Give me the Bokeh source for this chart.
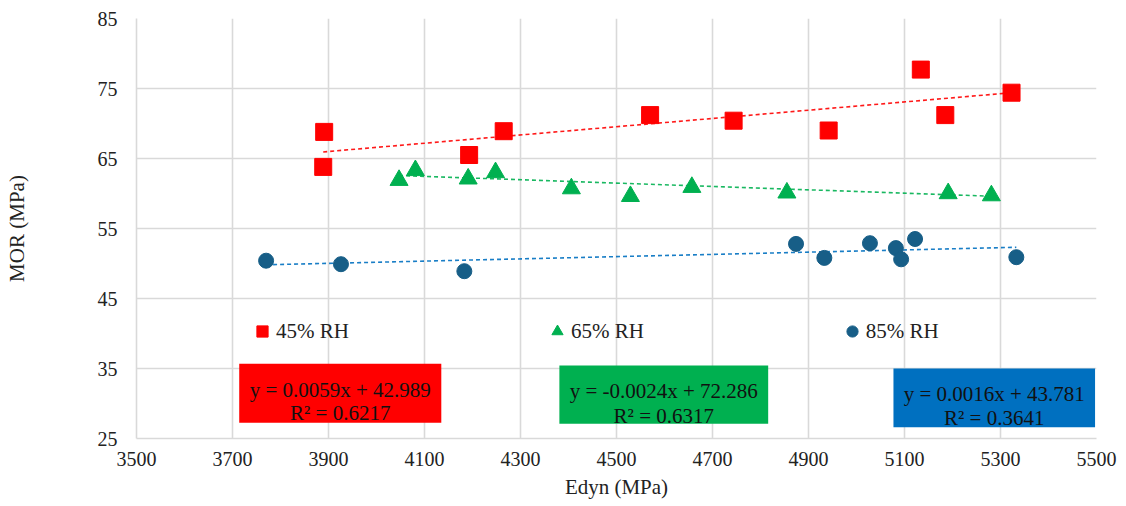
from bokeh.plotting import figure
from bokeh.models import FixedTicker, Label, BoxAnnotation, Range1d
from bokeh.embed import file_html
from bokeh.resources import INLINE

# ---- data ----
series_names = ["45% RH", "65% RH", "85% RH"]
edyn_45 = [3891, 3889, 4193, 4265, 4570, 4744, 4942, 5134, 5185, 5323]
mor_45 = [68.8, 63.8, 65.5, 68.9, 71.2, 70.4, 69.0, 77.7, 71.2, 74.4]
edyn_65 = [4047, 4081, 4191, 4248, 4406, 4529, 4657, 4855, 5191, 5281]
mor_65 = [61.9, 63.3, 62.1, 63.0, 60.7, 59.6, 60.9, 60.1, 60.0, 59.7]
edyn_85 = [3770, 3926, 4183, 4874, 4933, 5028, 5082, 5093, 5122, 5333]
mor_85 = [50.4, 49.9, 48.9, 52.8, 50.8, 52.9, 52.2, 50.6, 53.5, 50.9]
slopes = [0.0059, -0.0024, 0.0016]
intercepts = [42.989, 72.286, 43.781]
eq_labels = ["y = 0.0059x + 42.989", "y = -0.0024x + 72.286", "y = 0.0016x + 43.781"]
r2_labels = ["R\u00b2 = 0.6217", "R\u00b2 = 0.6317", "R\u00b2 = 0.3641"]
x_ticks = [3500, 3700, 3900, 4100, 4300, 4500, 4700, 4900, 5100, 5300, 5500]
y_ticks = [25, 35, 45, 55, 65, 75, 85]

FONT = "'Liberation Serif', 'Times New Roman', serif"
marker_colors = ["#FF0000", "#00B050", "#175E87"]
line_colors = ["#FF0000", "#00B050", "#0070C0"]
box_colors = ["#FF0000", "#00B050", "#0070C0"]
markers = ["square", "triangle", "circle"]
sizes = [17, 18, 15]

p = figure(width=1126, height=506, output_backend="svg", toolbar_location=None,
           title=None,
           x_range=Range1d(x_ticks[0], x_ticks[-1]), y_range=Range1d(y_ticks[0], y_ticks[-1]),
           min_border_left=136, min_border_right=30, min_border_top=18, min_border_bottom=68)
p.outline_line_color = None
p.background_fill_color = "white"
p.border_fill_color = "white"

p.xaxis.ticker = FixedTicker(ticks=x_ticks)
p.yaxis.ticker = FixedTicker(ticks=y_ticks)
p.xgrid.ticker = FixedTicker(ticks=x_ticks)
p.ygrid.ticker = FixedTicker(ticks=y_ticks)
for g in (p.xgrid, p.ygrid):
    g.grid_line_color = "#D9D9D9"
    g.grid_line_width = 1.6
for ax in (p.xaxis, p.yaxis):
    ax.axis_line_color = "#D9D9D9"
    ax.axis_line_width = 1.6
    ax.major_tick_line_color = None
    ax.minor_tick_line_color = None
    ax.major_tick_out = 0
    ax.major_tick_in = 0
    ax.major_label_text_font = FONT
    ax.major_label_text_font_size = "20px"
    ax.major_label_text_color = "#222222"
    ax.axis_label_text_font = FONT
    ax.axis_label_text_font_size = "21px"
    ax.axis_label_text_font_style = "normal"
    ax.axis_label_text_color = "#222222"
p.xaxis.axis_label = "Edyn (MPa)"
p.yaxis.axis_label = "MOR (MPa)"
p.xaxis.major_label_standoff = 13
p.xaxis.axis_label_standoff = 6
p.yaxis.major_label_standoff = 19
p.yaxis.axis_label_standoff = 66

xs_all = [edyn_45, edyn_65, edyn_85]
ys_all = [mor_45, mor_65, mor_85]

# trend lines
for xs, m, b, c in zip(xs_all, slopes, intercepts, line_colors):
    x0, x1 = min(xs), max(xs)
    p.line([x0, x1], [m * x0 + b, m * x1 + b], line_color=c, line_width=1.6,
           line_dash="4 3", line_alpha=0.9)

# scatter series
for xs, ys, name, mk, c, s in zip(xs_all, ys_all, series_names, markers, marker_colors, sizes):
    p.scatter(xs, ys, marker=mk, size=s, fill_color=c, line_color=c, legend_label=name)

leg = p.legend[0]
leg.orientation = "horizontal"
leg.location = (112, 93)
leg.padding = 0
leg.spacing = 194
leg.glyph_width = 28
leg.glyph_height = 28
leg.label_standoff = 0
leg.label_text_font = FONT
leg.label_text_font_size = "21px"
leg.label_text_color = "#222222"
leg.border_line_color = None
leg.background_fill_alpha = 0

# equation boxes (layout positions in data units)
box_lrtb = [(3714, 4135, 35.67, 27.24), (4381, 4816, 35.43, 27.1), (5077, 5497, 35.0, 26.6)]
eq_y = [(31.96, 28.61), (31.77, 28.19), (31.3, 27.94)]
for (l, r, t, bt), (y1, y2), c, eq, r2 in zip(box_lrtb, eq_y, box_colors, eq_labels, r2_labels):
    p.add_layout(BoxAnnotation(left=l, right=r, top=t, bottom=bt, fill_color=c, fill_alpha=1.0,
                               line_color=None, level="overlay"))
    cx = (l + r) / 2
    for yy, txt in ((y1, eq), (y2, r2)):
        p.add_layout(Label(x=cx, y=yy, text=txt, text_align="center", text_baseline="alphabetic",
                           text_font=FONT, text_font_size="21px", text_color="#111111",
                           level="overlay"))

open("out.html", "w").write(file_html(p, INLINE))
